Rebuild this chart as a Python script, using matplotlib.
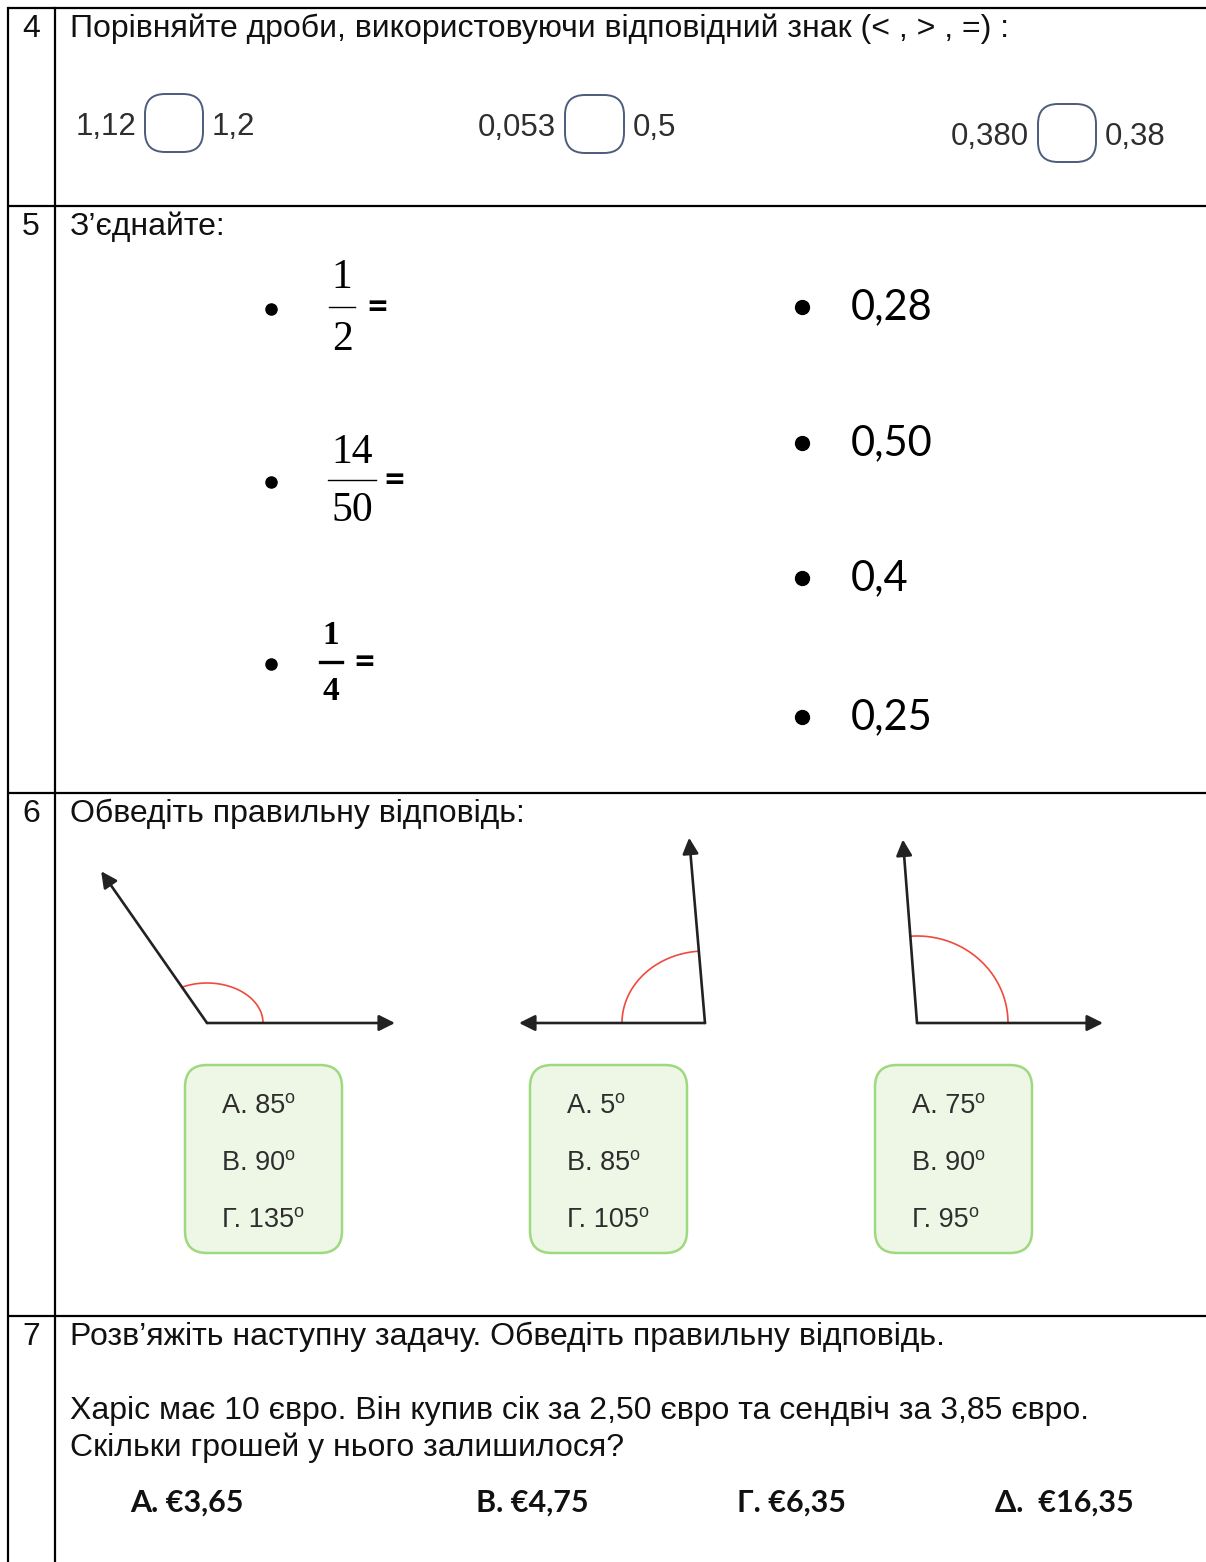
import numpy as np
import matplotlib
matplotlib.use("Agg")
import matplotlib.pyplot as plt
from matplotlib.patches import FancyBboxPatch

# ---- content ----
row_numbers = ["4", "5", "6", "7"]
row_titles = [
    "Порівняйте дроби, використовуючи відповідний знак (< , > , =) :",
    "З’єднайте:",
    "Обведіть правильну відповідь:",
    "Розв’яжіть наступну задачу. Обведіть правильну відповідь.",
]
compare_left = ["1,12", "0,053", "0,380"]
compare_right = ["1,2", "0,5", "0,38"]
fraction_num = ["1", "14", "1"]
fraction_den = ["2", "50", "4"]
decimals = ["0,28", "0,50", "0,4", "0,25"]
angle_base_dir = [0, 180, 0]          # direction of the horizontal ray (deg)
angle_ray_dir = [124.9, 94.9, 94.4]   # direction of the second ray (deg)
angle_options = [
    ["А. 85", "В. 90", "Г. 135"],
    ["А. 5", "В. 85", "Г. 105"],
    ["А. 75", "В. 90", "Г. 95"],
]
problem_lines = [
    "Харіс має 10 євро. Він купив сік за 2,50 євро та сендвіч за 3,85 євро.",
    "Скільки грошей у нього залишилося?",
]
answers = ["А. €3,65", "В. €4,75", "Г. €6,35", "Δ.  €16,35"]

# ---- layout ----
W, H = 1206, 1562
row_tops = [8, 206, 793, 1316]
col_left, col_div = 8, 55
INK = "#111111"
GREY = "#2e2e2e"
SANS = ["Liberation Sans", "DejaVu Sans"]
BODY = 23

fig = plt.figure(figsize=(W / 100, H / 100), dpi=100)
ax = fig.add_axes([0, 0, 1, 1])
ax.set_xlim(0, W)
ax.set_ylim(H, 0)
ax.axis("off")

# table grid
for y in row_tops:
    ax.plot([col_left, W], [y, y], color="black", lw=1.6, solid_capstyle="butt")
ax.plot([col_left, col_left], [row_tops[0], H], color="black", lw=1.6)
ax.plot([col_div, col_div], [row_tops[0], H], color="black", lw=1.6)

for top, num, title in zip(row_tops, row_numbers, row_titles):
    ax.text(31, top + 29, num, ha="center", va="baseline", fontsize=BODY,
            family=SANS, color=INK)
    ax.text(70, top + 29, title, ha="left", va="baseline", fontsize=BODY,
            family=SANS, color=INK)

# ---- row 4: comparisons ----
cmp_box_x = [145, 565, 1038]
cmp_box_w = [58, 59, 58]
cmp_y = [94, 95, 104]
for i, (lt, rt) in enumerate(zip(compare_left, compare_right)):
    y0 = cmp_y[i]
    ax.text(cmp_box_x[i] - 9, y0 + 41, lt, ha="right", va="baseline",
            fontsize=22.5, family=SANS, color=GREY)
    box = FancyBboxPatch((cmp_box_x[i], y0), cmp_box_w[i], 58,
                         boxstyle="round,pad=0,rounding_size=20",
                         fc="white", ec="#4d5b7c", lw=1.4)
    ax.add_patch(box)
    ax.text(cmp_box_x[i] + cmp_box_w[i] + 9, y0 + 41, rt, ha="left",
            va="baseline", fontsize=22.5, family=SANS, color=GREY)

# ---- row 5: matching ----
left_y = [307, 480, 662]
num_fonts = [dict(family=["Liberation Serif"], fontsize=30),
             dict(family=["Liberation Serif"], fontsize=30),
             dict(family=["Liberation Serif"], fontsize=24, weight="bold")]
bar_spans = [(329, 355), (328, 376), (320, 342)]
bar_lw = [1.0, 1.0, 2.4]
num_gap = [31, 29, 28]
eq_x = [377, 394, 364]
for i in range(3):
    y = left_y[i]
    ax.plot(271, y + 2, "o", color="black", ms=8)
    x0, x1 = bar_spans[i]
    xc = (x0 + x1) / 2
    ax.plot([x0, x1], [y, y], color="black", lw=bar_lw[i])
    ax.text(xc, y - num_gap[i] + 2, fraction_num[i], ha="center", va="center",
            color="black", **num_fonts[i])
    ax.text(xc, y + num_gap[i] + 2, fraction_den[i], ha="center", va="center",
            color="black", **num_fonts[i])
    ax.text(eq_x[i], y + 1, "=", ha="center", va="center", fontsize=27,
            family=["Lato", "DejaVu Sans"], weight="bold", color="black")

right_y = [307, 443, 578, 717]
for y, d in zip(right_y, decimals):
    ax.plot(802, y, "o", color="black", ms=10)
    ax.text(851, y, d, ha="left", va="center", fontsize=30,
            family=["Lato", "DejaVu Sans"], color="black")

# ---- row 6: angles ----
vertices = [(207, 1023), (705, 1023), (917, 1023)]
base_len = [188, 186, 186]
ray_len = [185, 186, 184]
arc_ab = [(56, 40), (83, 72), (91, 87)]
for i, (vx, vy) in enumerate(vertices):
    b_dir = np.radians(angle_base_dir[i])
    r_dir = np.radians(angle_ray_dir[i])
    for d, L in ((b_dir, base_len[i]), (r_dir, ray_len[i])):
        tip = (vx + L * np.cos(d), vy - L * np.sin(d))
        ax.annotate("", xy=tip, xytext=(vx, vy),
                    arrowprops=dict(arrowstyle="-|>", color="#222222", lw=1.9,
                                    mutation_scale=24, shrinkA=0, shrinkB=0))
    a, b = arc_ab[i]
    # parametric angles on the ellipse matching the ray directions
    t0 = np.arctan2(np.sin(b_dir), np.cos(b_dir))
    t1 = np.arctan2(a * np.sin(r_dir), b * np.cos(r_dir))
    ts = np.linspace(min(t0, t1), max(t0, t1), 80)
    ax.plot(vx + a * np.cos(ts), vy - b * np.sin(ts), color="#f04a3c", lw=1.2)

box_x = [185, 530, 875]
for i, opts in enumerate(angle_options):
    box = FancyBboxPatch((box_x[i], 1065), 157, 188,
                         boxstyle="round,pad=0,rounding_size=22",
                         fc="#eef7e6", ec="#9fd97f", lw=1.8)
    ax.add_patch(box)
    for j, opt in enumerate(opts):
        t = ax.text(box_x[i] + 37, 1113 + 57 * j, opt, ha="left", va="baseline",
                    fontsize=19.5, family=SANS, color=GREY)
        ax.annotate("o", xy=(1, 1), xycoords=t, xytext=(-0.5, 2.5),
                    textcoords="offset points", ha="left", va="top",
                    fontsize=13, family=SANS, color=GREY)

# ---- row 7: problem ----
for k, line in enumerate(problem_lines):
    ax.text(70, 1419 + 37 * k, line, ha="left", va="baseline", fontsize=BODY,
            family=SANS, color=INK)
ans_x = [130, 476, 737, 995]
for x, a in zip(ans_x, answers):
    ax.text(x, 1512, a, ha="left", va="baseline", fontsize=22,
            family=["Lato", "DejaVu Sans"], weight="bold", color=INK)

fig.savefig("out.png", dpi=100)
